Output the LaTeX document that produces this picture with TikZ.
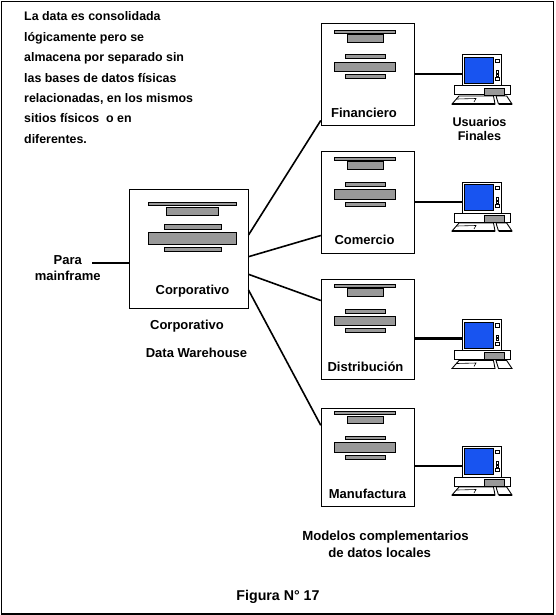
\documentclass[tikz,border=0pt]{standalone}
\usepackage{fontspec}
\setmainfont{Liberation Sans}
\definecolor{bargrey}{rgb}{0.6,0.6,0.6}
\definecolor{scr}{RGB}{24,84,240}
\tikzset{
  x=1pt,y=-1pt,
  lbl/.style={font=\fontsize{13}{16}\bfseries\selectfont,inner sep=0pt,align=center},
  dbox/.style={draw=black,line width=1pt,fill=white,inner sep=0pt,minimum width=93pt,rectangle},
  bar/.style={draw=black,line width=0.8pt,fill=bargrey},
  conn/.style={draw=black,line width=1.6pt},
  pc/.style={draw=black,line width=1pt,fill=white},
}
\newcommand\dbbars[5]{%
  \draw[bar] (334,#1) rectangle (395.5,#1+3.5);
  \draw[bar] (347.5,#2) rectangle (383.5,#2+7.5);
  \draw[bar] (345.5,#3) rectangle (385.5,#3+3.7);
  \draw[bar] (334,#4) rectangle (395.5,#4+#5);
  \draw[bar] (345.5,#4+#5+3) rectangle (385.5,#4+#5+6.7);
}
\newcommand\pcunit[2]{%
  \begin{scope}[yshift=-#2pt]
  \node[pc,minimum width=39pt,minimum height=31pt,inner sep=0pt] (#1) at (482,15.5) {};
  \draw[draw=black,line width=0.8pt,fill=scr] (464.5,2.5) rectangle (493.5,28.5);
  \draw[line width=0.6pt,fill=white] (495.3,4) rectangle (498.8,7.5);
  \draw[line width=0.6pt,fill=white] (496,15.5) rectangle (498.5,18);
  \draw[line width=0.6pt,fill=white] (496,19) rectangle (498.5,21);
  \draw[line width=0.6pt,fill=white] (495.5,22.5) rectangle (498.8,25.5);
  \draw[pc] (454.5,31) rectangle (510,40);
  \draw[line width=0.7pt,fill=bargrey] (484.5,33) rectangle (504,40);
  \draw[line width=0.9pt] (459,41) -- (493.5,41) -- (495,49) -- (452,49) -- cycle;
  \draw[line width=0.6pt] (457,44) -- (476,43.5) -- (474,47);
  \draw[line width=0.9pt] (496,41) -- (506.7,41) -- (512,49) -- (498.5,49) -- cycle;
  \draw[line width=1.3pt] (452,49) -- (495,49) (498.5,49) -- (512,49);
  \end{scope}
}
\begin{document}
\begin{tikzpicture}
\useasboundingbox (0,0) rectangle (555,615);
\fill[white] (0,0) rectangle (555,615);
\draw[line width=1.2pt] (1.5,1.5) rectangle (553.3,614);

\node[dbox,minimum width=118.5pt,minimum height=119pt] (corp) at (188.75,248.5) {};
\node[dbox,minimum height=101.5pt] (fin) at (367.75,74.25) {};
\node[dbox,minimum height=101.5pt] (com) at (367.75,202.25) {};
\node[dbox,minimum height=100pt] (dist) at (367.75,329.3) {};
\node[dbox,minimum height=98.5pt] (manu) at (367.75,457.5) {};

\draw[bar] (148.3,202.3) rectangle (236.7,205.7);
\draw[bar] (166.3,207.5) rectangle (218.7,215.3);
\draw[bar] (164.3,224.5) rectangle (221.7,229.3);
\draw[bar] (148.3,232.3) rectangle (236.7,244.3);
\draw[bar] (164.3,247.5) rectangle (221.7,251.7);

\dbbars{30}{34.5}{54.5}{62.5}{9}
\dbbars{157}{161.5}{182.5}{189.5}{10}
\dbbars{284}{288.5}{309.5}{316}{9.7}
\dbbars{411}{416}{436}{442.5}{10.2}

\pcunit{pa}{55}
\pcunit{pb}{182}
\pcunit{pc1}{319.5}
\pcunit{pd}{446}

\node[lbl] (lcorp) at (192.5,291.5) {Corporativo};
\node[lbl] (lfin) at (364,112.5) {Financiero};
\node[lbl] (lcom) at (364.5,239.5) {Comercio};
\node[lbl] (ldis) at (365.5,366.5) {Distribución};
\node[lbl] (lman) at (367.5,493.5) {Manufactura};

\coordinate (mf) at (92,263);
\draw[conn] (mf) -- (mf -| corp.west);
\draw[conn] ([yshift=13.5pt]corp.east) -- ([yshift=5pt]fin.south west);
\draw[conn] ([yshift=-8.2pt]corp.east) -- ([yshift=18pt]com.south west);
\draw[conn] ([yshift=-25.8pt]corp.east) -- ([yshift=-21.7pt]dist.north west);
\draw[conn] ([yshift=-41.5pt]corp.east) -- ([yshift=-17.5pt]manu.north west);
\draw[conn] ([yshift=-3.8pt]pa.west -| fin.east) -- ([yshift=-3.8pt]pa.west);
\draw[conn] ([yshift=-4.5pt]pb.west -| com.east) -- ([yshift=-4.5pt]pb.west);
\draw[conn,line width=2.8pt] ([yshift=-3.3pt]pc1.west -| dist.east) -- ([yshift=-3.3pt]pc1.west);
\draw[conn] ([yshift=-4.2pt]pd.west -| manu.east) -- ([yshift=-4.2pt]pd.west);

\node[lbl,anchor=north west,align=left,font=\fontsize{12.4}{20.35}\bfseries\selectfont] (intro) at (24,11.8) {La data es consolidada\\lógicamente pero se\\almacena por separado sin\\las bases de datos físicas\\relacionadas, en los mismos\\sitios físicos\ \ o en\\diferentes.};
\node[lbl] (para) at (67.7,268) {Para\\mainframe};
\node[lbl,font=\fontsize{12.6}{14.5}\bfseries\selectfont] (uf) at (479.5,129) {Usuarios\\Finales};
\node[lbl] (c1) at (187,326) {Corporativo};
\node[lbl] (c2) at (196.5,353) {Data Warehouse};
\node[lbl,align=left,font=\fontsize{13.2}{17}\bfseries\selectfont] (mod) at (385.5,544.5) {Modelos complementarios\\\hspace*{26pt}de datos locales};
\node[lbl,font=\fontsize{14.2}{17}\bfseries\selectfont] (figura) at (278,597) {Figura N° 17};
\end{tikzpicture}
\end{document}
